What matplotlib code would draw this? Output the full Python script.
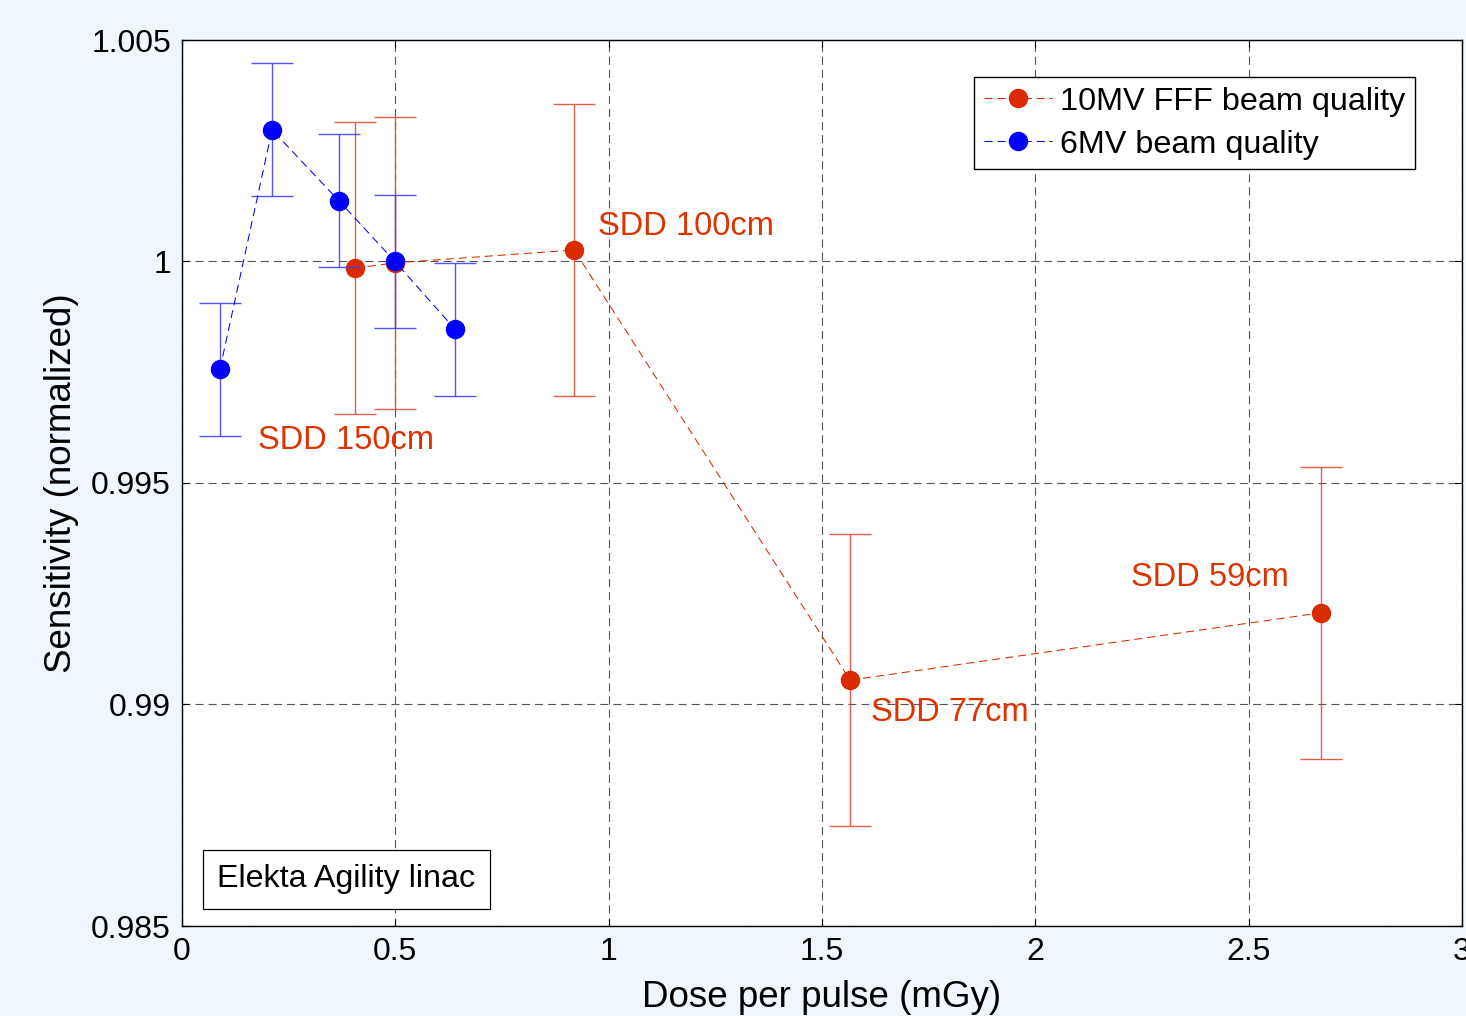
import matplotlib
matplotlib.use("Agg")
import matplotlib.pyplot as plt
from matplotlib.lines import Line2D

plt.rcParams['font.family'] = ['Liberation Sans', 'DejaVu Sans']
plt.rcParams['lines.scale_dashes'] = False

# 10MV FFF beam quality
x_fff = [0.405, 0.500, 0.919, 1.566, 2.669]
y_fff = [0.99985, 0.99997, 1.00026, 0.99055, 0.99207]
e_fff = [0.0033, 0.0033, 0.0033, 0.0033, 0.0033]

# 6MV beam quality
x_6mv = [0.089, 0.211, 0.368, 0.499, 0.640]
y_6mv = [0.99757, 1.00297, 1.00137, 1.00000, 0.99847]
e_6mv = [0.0015, 0.0015, 0.0015, 0.0015, 0.0015]

series_labels = ['10MV FFF beam quality', '6MV beam quality']

sdd_labels = ["SDD 150cm", "SDD 100cm", "SDD 77cm", "SDD 59cm"]
sdd_x = [0.178, 0.975, 1.615, 2.224]
sdd_y = [0.99595, 1.00078, 0.98983, 0.99286]

xticks = [0, 0.5, 1, 1.5, 2, 2.5, 3]
xticklabels = ["0", "0.5", "1", "1.5", "2", "2.5", "3"]
yticks = [0.985, 0.99, 0.995, 1.0, 1.005]
yticklabels = ["0.985", "0.99", "0.995", "1", "1.005"]

RED = '#DA2A00'
BLUE = '#0000FF'
BG = '#EFF6FD'

fig = plt.figure(figsize=(14.66, 10.16), dpi=100, facecolor=BG)
ax = fig.add_axes([182/1466, 1-926/1016, 1280/1466, 886/1016])
ax.set_facecolor('white')

dash = (0, (5.8, 3.6))
ax.errorbar(x_fff, y_fff, yerr=e_fff, fmt='o', color=RED, ms=13,
            linestyle=dash, lw=0.75, ecolor=(0.87, 0.3, 0.2, 0.9),
            elinewidth=1.0, capsize=15, capthick=1.0, zorder=3)
ax.errorbar(x_6mv, y_6mv, yerr=e_6mv, fmt='o', color=BLUE, ms=13,
            linestyle=dash, lw=0.75, ecolor=(0.25, 0.25, 1.0, 0.9),
            elinewidth=1.0, capsize=15, capthick=1.0, zorder=4)

for lab, tx, ty in zip(sdd_labels, sdd_x, sdd_y):
    ax.text(tx, ty, lab, color='#DD3300', fontsize=23.5, ha='left', va='center', zorder=5)

ax.text(0.3855, 0.98606, "Elekta Agility linac", fontsize=23.2, ha='center', va='center',
        bbox=dict(boxstyle='square,pad=0.45', facecolor='white', edgecolor='black', lw=0.9),
        zorder=6)

ax.set_xlim(0, 3)
ax.set_ylim(0.985, 1.005)
ax.set_xticks(xticks)
ax.set_xticklabels(xticklabels)
ax.set_yticks(yticks)
ax.set_yticklabels(yticklabels)
ax.tick_params(direction='in', length=5, width=0.8, labelsize=23, pad=8,
               top=True, right=True)
ax.grid(True, color='#555555', linestyle=(0, (5.8, 3.6)), lw=0.8)
for s in ax.spines.values():
    s.set_linewidth(1.0)
    s.set_color('black')

ax.set_xlabel("Dose per pulse (mGy)", fontsize=26.5, labelpad=9)
ax.set_ylabel("Sensitivity (normalized)", fontsize=26.5, labelpad=9)

handles = [Line2D([], [], color=RED, marker='o', ms=13, linestyle=dash, lw=0.75),
           Line2D([], [], color=BLUE, marker='o', ms=13, linestyle=dash, lw=0.75)]
leg = ax.legend(handles, series_labels, loc='upper right',
                bbox_to_anchor=((1415-182)/1280, 1-(77-40)/886),
                borderaxespad=0, fontsize=23.3, handlelength=2.1, handletextpad=0.25,
                labelspacing=0.4, borderpad=0.3, fancybox=False, framealpha=1,
                edgecolor='black')
leg.get_frame().set_linewidth(1.0)

fig.savefig('out.png', dpi=100, facecolor=BG)
